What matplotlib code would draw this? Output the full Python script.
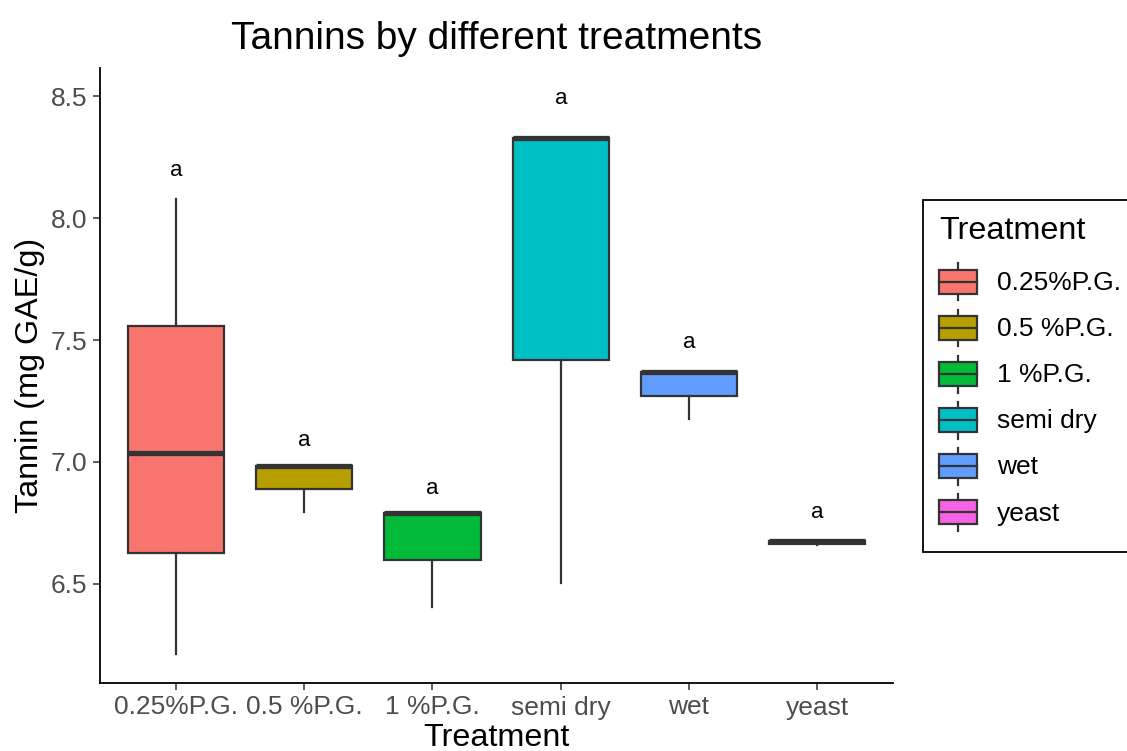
import matplotlib
matplotlib.use("Agg")
import matplotlib.pyplot as plt
from matplotlib.patches import Rectangle
from matplotlib.lines import Line2D
from matplotlib.legend_handler import HandlerBase

plt.rcParams['font.family'] = ['Liberation Sans', 'DejaVu Sans']

# summary stats per treatment (mg GAE/g)
treatments = ["0.25%P.G.", "0.5 %P.G.", "1 %P.G.", "semi dry", "wet", "yeast"]
whis_lo = [6.213, 6.795, 6.406, 6.504, 7.176, 6.658]
q1 = [6.627, 6.890, 6.598, 7.418, 7.270, 6.663]
median = [7.037, 6.984, 6.790, 8.328, 7.369, 6.675]
q3 = [7.557, 6.984, 6.790, 8.328, 7.369, 6.675]
whis_hi = [8.078, 6.984, 6.790, 8.328, 7.369, 6.675]
letters = ["a", "a", "a", "a", "a", "a"]
letter_y = [8.193, 7.090, 6.893, 8.490, 7.490, 6.791]
colors = ["#F8766D", "#B79F00", "#00BA38", "#00BFC4", "#619CFF", "#F564E3"]

EDGE = "#333333"

fig = plt.figure(figsize=(11.27, 7.51), dpi=100)
ax = fig.add_axes([100/1127, 1-683/751, 793/1127, 615/751])

stats = []
for i, name in enumerate(treatments):
    stats.append(dict(label=name, med=median[i], q1=q1[i], q3=q3[i],
                      whislo=whis_lo[i], whishi=whis_hi[i], fliers=[]))

positions = list(range(1, len(treatments) + 1))
bp = ax.bxp(stats, positions=positions, widths=0.75, patch_artist=True,
            showcaps=False, showfliers=False,
            boxprops=dict(edgecolor=EDGE, linewidth=1.6),
            whiskerprops=dict(color=EDGE, linewidth=1.6),
            medianprops=dict(color=EDGE, linewidth=3.8, solid_capstyle='butt'))
for patch, c in zip(bp['boxes'], colors):
    patch.set_facecolor(c)

for x, y, t in zip(positions, letter_y, letters):
    ax.text(x, y, t, ha='center', va='center', fontsize=16, color='black')

ax.set_xlim(0.408, 6.59)
ax.set_ylim(6.094, 8.615)
ax.set_yticks([6.5, 7.0, 7.5, 8.0, 8.5])
ax.set_yticklabels(["6.5", "7.0", "7.5", "8.0", "8.5"])
ax.set_xticks(positions)
ax.set_xticklabels(treatments)

for s in ['top', 'right']:
    ax.spines[s].set_visible(False)
for s in ['left', 'bottom']:
    ax.spines[s].set_linewidth(1.3)
    ax.spines[s].set_color('black')
ax.tick_params(axis='both', length=5, width=1.1, color=EDGE,
               labelsize=19, labelcolor='#4D4D4D', pad=4)

ax.set_xlabel("Treatment", fontsize=23.3, labelpad=2.5)
ax.set_ylabel("Tannin (mg GAE/g)", fontsize=23.3, labelpad=4)
ax.set_title("Tannins by different treatments", fontsize=28, pad=14)


class BoxKey(HandlerBase):
    # legend key drawn as a tiny boxplot glyph
    def create_artists(self, legend, orig_handle, xdescent, ydescent,
                       width, height, fontsize, trans):
        x0, y0 = -xdescent, -ydescent
        bh = height * 0.52
        by = y0 + (height - bh) / 2
        cx = x0 + width / 2
        wl = height * 0.1
        arts = [
            Line2D([cx, cx], [y0 + wl, by], color=EDGE, lw=1.6, transform=trans),
            Line2D([cx, cx], [by + bh, y0 + height - wl], color=EDGE, lw=1.6, transform=trans),
            Rectangle((x0, by), width, bh, facecolor=orig_handle.get_facecolor(),
                      edgecolor=EDGE, lw=1.6, transform=trans),
            Line2D([x0, x0 + width], [by + bh / 2] * 2, color=EDGE, lw=1.6, transform=trans),
        ]
        return arts


handles = [Rectangle((0, 0), 1, 1, facecolor=c) for c in colors]
leg = fig.legend(handles, treatments, title="Treatment",
                 handler_map={Rectangle: BoxKey()},
                 loc='upper left', bbox_to_anchor=(923/1127, 1-200/751),
                 bbox_transform=fig.transFigure, borderaxespad=0,
                 fontsize=19, title_fontsize=23.3, alignment='left',
                 handlelength=1.42, handleheight=2.31, labelspacing=0.0,
                 handletextpad=0.75, borderpad=0.62, fancybox=False,
                 framealpha=1, edgecolor='black')
leg.get_frame().set_linewidth(1.3)
# extra gap between legend title and keys
leg._legend_box.sep = 9

fig.savefig("out.png", dpi=100)
